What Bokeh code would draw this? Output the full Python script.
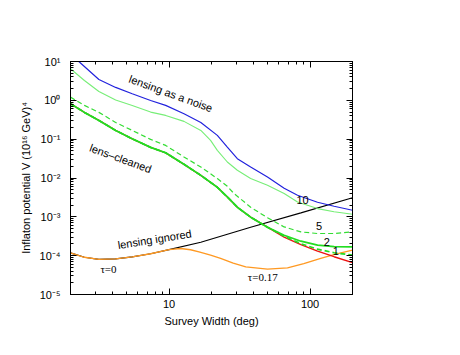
from bokeh.plotting import figure
from bokeh.models import Range1d, FixedTicker, LogAxis, CustomJSTickFormatter
from bokeh.core.properties import value
from bokeh.embed import file_html
from bokeh.resources import INLINE

# ---- data (survey width in deg, inflaton potential V in (1e16 GeV)^4) ----
w_noise = [2.29, 3.18, 4.18, 5.48, 7.40, 9.46, 12.76, 16.8, 22.0, 25.9, 30.5, 37.9, 49.9, 65.5, 81.5, 113, 148, 200]
V_noise = [10, 3.45, 2.15, 1.48, 0.99, 0.74, 0.453, 0.27, 0.125, 0.0627, 0.0315, 0.0192, 0.0106, 0.00543, 0.00359, 0.00237, 0.00187, 0.00148]

w_n10 = [2, 2.51, 3.18, 4.18, 5.48, 7.40, 9.46, 12.76, 16.8, 19.7, 22.0, 25.9, 30.5, 37.9, 49.9, 65.5, 81.5, 113, 148, 200]
V_n10 = [6.49, 3.25, 1.69, 1.02, 0.74, 0.498, 0.409, 0.287, 0.168, 0.093, 0.0515, 0.0258, 0.0158, 0.00966, 0.00649, 0.00397, 0.00242, 0.00163, 0.00135, 0.00117]

w_n5 = [2, 2.51, 3.18, 4.18, 5.48, 7.40, 9.46, 12.76, 16.8, 22.0, 25.9, 28.9, 37.9, 49.9, 65.5, 86.1, 113, 148, 200]
V_n5 = [1.21, 0.74, 0.49, 0.27, 0.168, 0.099, 0.069, 0.0347, 0.0192, 0.00966, 0.00612, 0.00397, 0.00177, 9.5e-4, 5.5e-4, 4.09e-4, 3.72e-4, 3.72e-4, 4.09e-4]

w_clean = [2, 2.51, 3.18, 4.18, 5.48, 7.40, 9.46, 12.76, 16.8, 22.0, 25.9, 30.5, 37.9, 49.9]
V_clean = [0.82, 0.489, 0.304, 0.168, 0.102, 0.0615, 0.0445, 0.0225, 0.0117, 0.00577, 0.00325, 0.00177, 9.8e-4, 5.4e-4]

w_tail = [65.5, 86.1, 113, 148, 200]
V_n2_tail = [3.36e-4, 2.36e-4, 1.86e-4, 1.70e-4, 1.68e-4]
V_n1_tail = [3.17e-4, 2.03e-4, 1.47e-4, 1.19e-4, 1.03e-4]
V_n0_tail = [2.99e-4, 1.92e-4, 1.31e-4, 9.4e-5, 6.6e-5]

w_ign = [2, 2.51, 3.18, 4.18, 5.48, 7.40, 10, 16.8, 37.9, 86.1, 200]
V_ign = [1.18e-4, 9.1e-5, 8.0e-5, 8.3e-5, 9.3e-5, 1.12e-4, 1.43e-4, 2.22e-4, 5.4e-4, 1.26e-3, 3.1e-3]

w_tau = [2, 2.51, 3.18, 4.18, 5.48, 7.40, 10, 12.1, 14.2, 16.3, 19.7, 23.2, 28.5, 35.0, 49.9, 69.2, 90.3, 119, 152, 200]
V_tau = [1.18e-4, 9.1e-5, 8.0e-5, 8.3e-5, 9.3e-5, 1.12e-4, 1.43e-4, 1.53e-4, 1.42e-4, 1.25e-4, 1.03e-4, 8.5e-5, 6.4e-5, 5.15e-5, 4.5e-5, 4.85e-5, 6.2e-5, 8.5e-5, 1.09e-4, 1.38e-4]

x_major = [10, 100]
x_minor = [2, 3, 4, 5, 6, 7, 8, 9, 20, 30, 40, 50, 60, 70, 80, 90, 200]
y_major = [1e-5, 1e-4, 1e-3, 1e-2, 1e-1, 1e0, 1e1]
y_minor = [m * 10.0 ** e for e in range(-5, 1) for m in range(2, 10)]

w_n2 = w_clean + w_tail
V_n2 = V_clean + V_n2_tail
w_n1 = w_clean + w_tail
V_n1 = V_clean + V_n1_tail
w_n0 = w_clean + w_tail
V_n0 = V_clean + V_n0_tail

FONT = "Liberation Sans"

p = figure(width=444, height=339, x_axis_type="log", y_axis_type="log",
           x_range=Range1d(2, 200), y_range=Range1d(1e-5, 10),
           output_backend="svg", toolbar_location=None,
           min_border_left=70, min_border_top=61, min_border_right=92, min_border_bottom=45)
p.xgrid.visible = False
p.ygrid.visible = False
p.outline_line_color = "black"
p.background_fill_color = "white"
p.border_fill_color = "white"

sup = CustomJSTickFormatter(code="""
const m = {'-':'\u207b','0':'\u2070','1':'\u00b9','2':'\u00b2','3':'\u00b3','4':'\u2074','5':'\u2075','6':'\u2076','7':'\u2077','8':'\u2078','9':'\u2079'};
const e = Math.round(Math.log10(tick));
return '10' + String(e).split('').map(c => m[c]).join('');
""")
plain = CustomJSTickFormatter(code="return String(Math.round(tick));")
blank = CustomJSTickFormatter(code="return '';")

def style(ax):
    ax.axis_line_color = "black"
    ax.major_tick_in = 6
    ax.major_tick_out = 0
    ax.minor_tick_in = 3
    ax.minor_tick_out = 0
    ax.major_tick_line_color = "black"
    ax.minor_tick_line_color = "black"
    ax.major_label_text_font = FONT
    ax.major_label_text_font_size = "11px"
    ax.major_label_text_color = "black"
    ax.axis_label_text_font = FONT
    ax.axis_label_text_font_size = "11px"
    ax.axis_label_text_font_style = "normal"
    ax.axis_label_text_color = "black"

xa = p.xaxis[0]
xa.ticker = FixedTicker(ticks=x_major, minor_ticks=x_minor)
xa.formatter = plain
xa.axis_label = "Survey Width (deg)"
xa.major_label_standoff = 5
xa.axis_label_standoff = 4
style(xa)

ya = p.yaxis[0]
ya.ticker = FixedTicker(ticks=y_major, minor_ticks=y_minor)
ya.formatter = sup
ya.axis_label = "Inflaton potential V (10\u00b9\u2076 GeV)\u2074"
ya.major_label_standoff = 10
ya.axis_label_standoff = 5
style(ya)

top = LogAxis(ticker=FixedTicker(ticks=x_major, minor_ticks=x_minor), formatter=blank)
style(top)
top.major_label_text_font_size = "0px"
p.add_layout(top, "above")
right = LogAxis(ticker=FixedTicker(ticks=y_major, minor_ticks=y_minor), formatter=blank)
style(right)
right.major_label_text_font_size = "0px"
p.add_layout(right, "right")

# ---- curves ----
p.line(w_ign, V_ign, line_color="black", line_width=1.2)
p.line(w_tau, V_tau, line_color="#ff9922", line_width=1.3)
p.line(w_n0, V_n0, line_color="#ee1111", line_width=1.4)
p.line(w_n1, V_n1, line_color="#22dd22", line_width=1.7, line_dash="5 3")
p.line(w_n2, V_n2, line_color="#22dd22", line_width=1.7)
p.line(w_n5, V_n5, line_color="#33dd33", line_width=1.2, line_dash="5 3")
p.line(w_n10, V_n10, line_color="#77ee77", line_width=1.1)
p.line(w_noise, V_noise, line_color="#2222dd", line_width=1.2)

# ---- annotations ----
def label(x, y, t, angle=0, font=FONT):
    p.text(x=[x], y=[y], text=[t], angle=angle, angle_units="deg",
           text_font=value(font), text_font_size="11px", text_color="black",
           text_align="center", text_baseline="middle")

label(10.3, 1.5, "lensing as a noise", -20)
label(4.53, 0.032, "lens\u2013cleaned", -20)
label(7.9, 2.65e-4, "lensing ignored", 9)
label(3.72, 4.5e-5, "\u03c4=0", 0, "Liberation Serif")
label(46.2, 2.8e-5, "\u03c4=0.17", 0, "Liberation Serif")
label(88.5, 2.67e-3, "10")
label(116, 5.7e-4, "5")
label(131.6, 2.26e-4, "2")
label(152, 1.33e-4, "1")

open("out.html", "w").write(file_html(p, INLINE))
